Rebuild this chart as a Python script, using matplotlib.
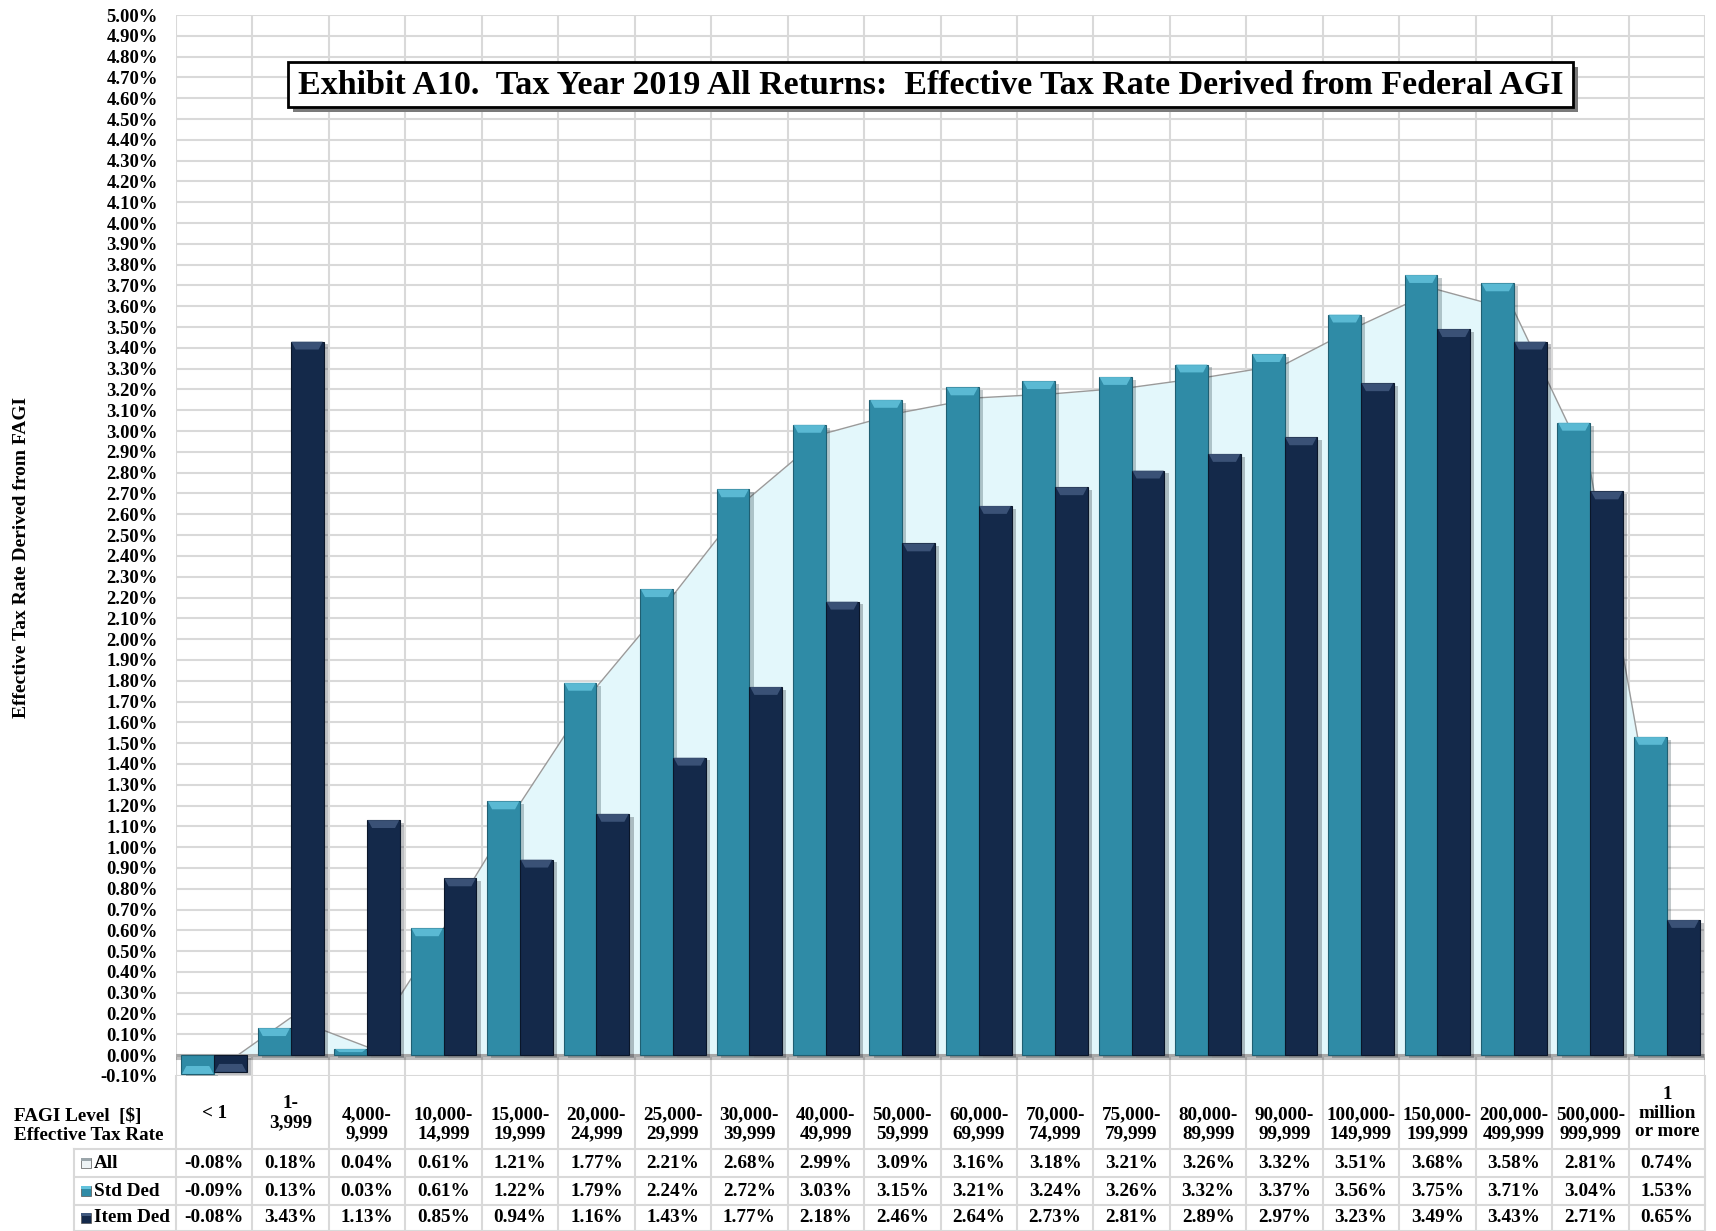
import matplotlib
matplotlib.use("Agg")
import matplotlib.pyplot as plt
import numpy as np
from matplotlib.patches import Rectangle, Polygon
from matplotlib.transforms import blended_transform_factory
import matplotlib.patheffects as pe

# ---------------- data ----------------
categories = ["< 1", "1-\n3,999", "4,000-\n9,999", "10,000-\n14,999", "15,000-\n19,999",
              "20,000-\n24,999", "25,000-\n29,999", "30,000-\n39,999", "40,000-\n49,999",
              "50,000-\n59,999", "60,000-\n69,999", "70,000-\n74,999", "75,000-\n79,999",
              "80,000-\n89,999", "90,000-\n99,999", "100,000-\n149,999", "150,000-\n199,999",
              "200,000-\n499,999", "500,000-\n999,999", "1\nmillion\nor more"]
all_rate = [-0.08, 0.18, 0.04, 0.61, 1.21, 1.77, 2.21, 2.68, 2.99, 3.09,
            3.16, 3.18, 3.21, 3.26, 3.32, 3.51, 3.68, 3.58, 2.81, 0.74]
std_rate = [-0.09, 0.13, 0.03, 0.61, 1.22, 1.79, 2.24, 2.72, 3.03, 3.15,
            3.21, 3.24, 3.26, 3.32, 3.37, 3.56, 3.75, 3.71, 3.04, 1.53]
item_rate = [-0.08, 3.43, 1.13, 0.85, 0.94, 1.16, 1.43, 1.77, 2.18, 2.46,
             2.64, 2.73, 2.81, 2.89, 2.97, 3.23, 3.49, 3.43, 2.71, 0.65]
series_names = ["All", "Std Ded", "Item Ded"]
y_ticks = np.round(np.arange(-0.1, 5.0001, 0.1), 2)
title = "Exhibit A10.  Tax Year 2019 All Returns:  Effective Tax Rate Derived from Federal AGI"
y_label = "Effective Tax Rate Derived from FAGI"
header_label = "FAGI Level  [$]\nEffective Tax Rate"

# ---------------- style ----------------
plt.rcParams["font.family"] = ["Liberation Serif", "DejaVu Serif"]
plt.rcParams["font.weight"] = "bold"

C_STD, C_STD_TOP, C_STD_EDGE = "#2f8ba6", "#62c2dc", "#1f5f72"
C_ITEM, C_ITEM_TOP, C_ITEM_EDGE = "#14294a", "#41597e", "#0a1629"
C_AREA, C_AREA_LINE = "#e3f7fb", "#9a9a9a"
C_GRID = "#d9d9d9"

W, H = 1716, 1231
fig = plt.figure(figsize=(W / 100, H / 100), dpi=100)
fig.patch.set_facecolor("white")

L, R, T, B = 176, 1705, 15, 1076
ax = fig.add_axes([L / W, 1 - B / H, (R - L) / W, (B - T) / H])
n = len(categories)
x = np.arange(n)
ax.set_xlim(-0.5, n - 0.5)
ax.set_ylim(-0.1, 5.0)
ax.set_yticks(y_ticks)
ax.set_yticklabels([f"{v:.2f}%" for v in y_ticks])
ax.tick_params(axis="y", length=0, pad=13, labelsize=13.4)
ax.set_xticks([])
for s in ax.spines.values():
    s.set_visible(False)
for t in y_ticks:
    ax.axhline(t, color=C_GRID, lw=1.5, zorder=0)
for b in np.arange(-0.5, n, 1.0):
    ax.axvline(b, color=C_GRID, lw=1.5, zorder=0)

# "All" area series
ax.fill_between(x, 0, all_rate, color=C_AREA, lw=0, zorder=1)
ax.plot(x, all_rate, color=C_AREA_LINE, lw=1.0, zorder=1.5)

# zero axis line
ax.axhline(0, color="#a8a8a8", lw=2.2, zorder=2.5,
           path_effects=[pe.SimpleLineShadow(offset=(0, -2), alpha=0.25), pe.Normal()])

# bars
w = 0.43
shadow = [pe.SimplePatchShadow(offset=(3, -2), alpha=0.25), pe.Normal()]
ax.bar(x - w / 2, std_rate, w, color=C_STD, edgecolor=C_STD_EDGE, lw=0.8, zorder=3,
       path_effects=shadow, label=series_names[1])
ax.bar(x + w / 2, item_rate, w, color=C_ITEM, edgecolor=C_ITEM_EDGE, lw=0.8, zorder=3,
       path_effects=shadow, label=series_names[2])

# bevel highlight on top of each bar
def bevel(xc, v, col):
    x0, x1 = xc - w / 2, xc + w / 2
    h = min(0.038, abs(v) / 2)
    d = 0.065
    s = 1 if v >= 0 else -1
    poly = Polygon([(x0 + 0.01, v), (x1 - 0.01, v), (x1 - d, v - s * h), (x0 + d, v - s * h)],
                   closed=True, fc=col, ec="none", zorder=3.5, alpha=0.85)
    ax.add_patch(poly)

for xi, v in zip(x, std_rate):
    bevel(xi - w / 2, v, C_STD_TOP)
for xi, v in zip(x, item_rate):
    bevel(xi + w / 2, v, C_ITEM_TOP)

# ---------------- overlay (pixel coords) ----------------
ov = fig.add_axes([0, 0, 1, 1])
ov.set_xlim(0, W)
ov.set_ylim(H, 0)
ov.axis("off")
ov.set_zorder(5)

# title box
tx0, ty0, tw, th = 288, 62, 1285, 45
ov.add_patch(Rectangle((tx0 + 5, ty0 + 5), tw, th, fc="#7a7a7a", ec="none", zorder=1))
ov.add_patch(Rectangle((tx0, ty0), tw, th, fc="white", ec="black", lw=2, zorder=2))
ov.text(tx0 + tw / 2, ty0 + th / 2 + 1, title, ha="center", va="center",
        fontsize=24.5, fontweight="bold", zorder=3)

# y label
ov.text(22, 558, y_label, rotation=90, ha="center", va="center", fontsize=14,
        fontweight="bold")

# table
bt = blended_transform_factory(ax.transData, ov.transData)
row_lines = [1149, 1177, 1205, 1231]
row_centers = [1163, 1191, 1218]
leg_left = 74
for b in np.arange(-0.5, n, 1.0):
    ov.plot([b, b], [B, H], color=C_GRID, lw=1.5, transform=bt, zorder=1)
for yl in row_lines:
    ov.plot([leg_left, R], [yl, yl], color=C_GRID, lw=1.5, zorder=1)
ov.plot([leg_left, leg_left], [row_lines[0], H], color=C_GRID, lw=1.5, zorder=1)

# header text
ov.text(14, 1126, header_label, ha="left", va="center", fontsize=13.8,
        fontweight="bold", linespacing=1.15)

for i, lab in enumerate(categories):
    nl = lab.count("\n") + 1
    yc = 1113 if (i < 2 or nl == 3) else 1124
    ov.text(i, yc, lab, ha="center", va="center", fontsize=13.8, fontweight="bold",
            linespacing=1.15, transform=bt, multialignment="center")

# legend keys + names + values
key_cols = [("#eef3f5", "#9aa5aa"), (C_STD, C_STD_TOP), (C_ITEM, C_ITEM_TOP)]
series_vals = [all_rate, std_rate, item_rate]
for (name, vals, (kc, kt), yc) in zip(series_names, series_vals, key_cols, row_centers):
    ov.add_patch(Rectangle((81, yc - 5), 10, 10, fc=kc, ec="#555555", lw=0.5, zorder=2))
    ov.add_patch(Rectangle((81, yc - 5), 10, 3, fc=kt, ec="none", zorder=3))
    ov.text(94, yc, name, ha="left", va="center", fontsize=13.8, fontweight="bold")
    for i, v in enumerate(vals):
        ov.text(i, yc, f"{v:.2f}%", ha="center", va="center", fontsize=13.8,
                fontweight="bold", transform=bt)

fig.savefig("out.png", dpi=100, facecolor="white")
